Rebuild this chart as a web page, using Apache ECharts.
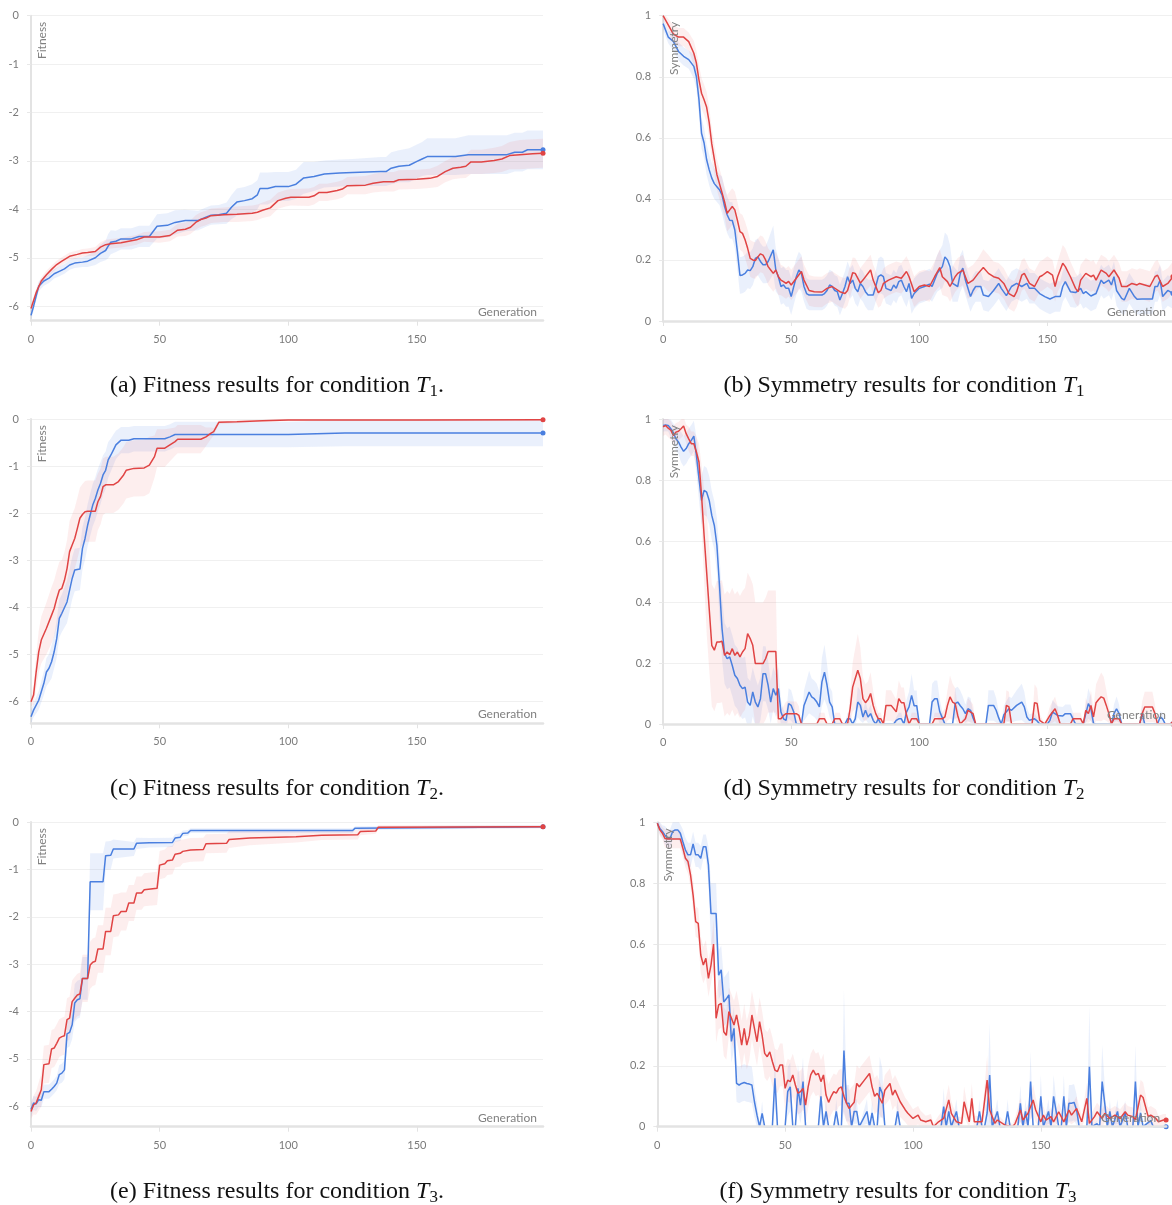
<!DOCTYPE html>
<html>
<head>
<meta charset="utf-8">
<script src="https://cdn.jsdelivr.net/npm/echarts@6/dist/echarts.min.js"></script>
<style>
  html, body { margin: 0; padding: 0; background: #ffffff; }
  #chart { width: 1172px; height: 1205px; }
</style>
</head>
<body>
<div id="chart"></div>
<script>
// Each point: [generation, mean, half-width of the shaded band]

// ---- Fitness, condition T1 ----
const fitT1Blue = [
  [0,-6.19,0.1],[1,-6.0,0.1],[2,-5.79,0.1],[3,-5.59,0.1],[5,-5.48,0.1],[7,-5.42,0.1],[9,-5.33,0.1],[11,-5.28,0.1],
  [13,-5.23,0.1],[15,-5.15,0.1],[17,-5.11,0.1],[20,-5.09,0.1],[22,-5.07,0.12],[25,-5.0,0.15],[27,-4.91,0.18],
  [29,-4.85,0.2],[30,-4.76,0.25],[31,-4.68,0.25],[33,-4.66,0.22],[35,-4.61,0.22],[39,-4.61,0.22],[42,-4.56,0.22],
  [46,-4.56,0.22],[49,-4.35,0.25],[53,-4.33,0.25],[56,-4.27,0.25],[60,-4.23,0.22],[65,-4.23,0.2],[68,-4.16,0.2],
  [70,-4.12,0.2],[73,-4.11,0.2],[76,-4.08,0.22],[78,-3.95,0.25],[80,-3.85,0.28],[83,-3.82,0.28],[86,-3.78,0.3],
  [88,-3.70,0.3],[89,-3.57,0.33],[92,-3.57,0.33],[95,-3.53,0.3],[100,-3.53,0.3],[103,-3.48,0.3],[106,-3.35,0.33],
  [110,-3.32,0.3],[114,-3.27,0.28],[120,-3.25,0.28],[125,-3.24,0.28],[136,-3.22,0.3],[138,-3.22,0.3],[140,-3.15,0.33],
  [143,-3.11,0.33],[147,-3.09,0.35],[150,-3.01,0.35],[152,-2.96,0.35],[154,-2.91,0.38],[165,-2.91,0.38],[170,-2.87,0.4],
  [185,-2.87,0.4],[188,-2.82,0.4],[191,-2.82,0.4],[193,-2.77,0.4],[199,-2.77,0.4]
];
const fitT1Red = [
  [0,-6.05,0.08],[2,-5.72,0.08],[4,-5.48,0.08],[6,-5.35,0.08],[8,-5.24,0.08],[10,-5.14,0.08],[12,-5.07,0.08],
  [15,-4.97,0.08],[18,-4.93,0.08],[20,-4.9,0.08],[22,-4.89,0.08],[25,-4.87,0.09],[27,-4.78,0.1],[29,-4.73,0.1],
  [31,-4.71,0.1],[35,-4.69,0.1],[38,-4.66,0.1],[41,-4.63,0.1],[44,-4.57,0.1],[50,-4.57,0.12],[54,-4.54,0.12],
  [57,-4.43,0.13],[60,-4.41,0.14],[62,-4.37,0.14],[64,-4.27,0.15],[66,-4.21,0.15],[68,-4.18,0.15],[70,-4.13,0.15],
  [75,-4.11,0.15],[80,-4.10,0.16],[86,-4.08,0.16],[88,-4.06,0.16],[90,-4.02,0.16],[93,-3.97,0.17],[96,-3.82,0.17],
  [99,-3.77,0.17],[101,-3.75,0.17],[108,-3.75,0.18],[110,-3.72,0.18],[112,-3.65,0.18],[115,-3.65,0.18],[119,-3.61,0.18],
  [121,-3.58,0.18],[123,-3.51,0.18],[130,-3.50,0.19],[133,-3.46,0.19],[137,-3.43,0.2],[141,-3.43,0.2],[143,-3.39,0.2],
  [150,-3.38,0.2],[155,-3.36,0.2],[158,-3.32,0.22],[161,-3.22,0.22],[164,-3.15,0.23],[167,-3.13,0.23],[169,-3.11,0.24],
  [171,-3.02,0.25],[175,-3.02,0.25],[180,-2.99,0.26],[183,-2.96,0.27],[186,-2.89,0.28],[190,-2.87,0.3],[195,-2.85,0.3],
  [199,-2.84,0.3]
];

// ---- Symmetry, condition T1 ----
const symT1Blue = [
  [0,0.974,0.02],[2,0.93,0.02],[4,0.916,0.03],[6,0.883,0.03],[8,0.867,0.03],[10,0.856,0.03],[12,0.834,0.04],[13,0.80,0.04],
  [14,0.725,0.05],[15,0.615,0.05],[16,0.583,0.05],[17,0.528,0.05],[18,0.495,0.05],[19,0.468,0.05],[20,0.45,0.05],
  [21,0.44,0.05],[22,0.43,0.05],[23,0.413,0.06],[24,0.375,0.06],[25,0.348,0.06],[26,0.33,0.06],[27,0.329,0.06],
  [28,0.298,0.06],[29,0.227,0.06],[30,0.149,0.06],[31,0.151,0.06],[32,0.156,0.06],[33,0.167,0.06],[34,0.165,0.06],
  [35,0.178,0.06],[36,0.205,0.06],[37,0.21,0.06],[38,0.195,0.06],[39,0.184,0.06],[40,0.184,0.06],[41,0.195,0.07],
  [43,0.233,0.08],[44,0.167,0.07],[45,0.145,0.06],[46,0.113,0.06],[47,0.118,0.06],[48,0.107,0.06],[49,0.107,0.06],
  [50,0.08,0.06],[51,0.113,0.06],[52,0.145,0.06],[53,0.167,0.06],[54,0.156,0.06],[55,0.113,0.05],[56,0.09,0.05],
  [57,0.085,0.05],[62,0.085,0.05],[63,0.09,0.05],[64,0.10,0.05],[65,0.118,0.05],[66,0.113,0.05],[67,0.10,0.05],
  [68,0.096,0.05],[69,0.069,0.05],[70,0.09,0.05],[71,0.113,0.05],[72,0.145,0.05],[73,0.123,0.05],[74,0.134,0.05],
  [75,0.107,0.05],[76,0.096,0.05],[77,0.123,0.05],[78,0.113,0.05],[79,0.096,0.05],[80,0.085,0.05],[82,0.085,0.05],
  [83,0.113,0.05],[84,0.145,0.06],[85,0.151,0.06],[86,0.145,0.06],[87,0.107,0.05],[89,0.10,0.05],[90,0.118,0.05],
  [91,0.107,0.05],[92,0.129,0.05],[93,0.134,0.05],[94,0.113,0.05],[95,0.096,0.05],[96,0.123,0.05],[97,0.074,0.05],
  [98,0.09,0.05],[100,0.107,0.05],[102,0.113,0.05],[104,0.121,0.05],[105,0.113,0.05],[107,0.156,0.06],[109,0.178,0.07],
  [110,0.21,0.08],[111,0.20,0.08],[112,0.178,0.07],[113,0.123,0.06],[115,0.113,0.05],[116,0.156,0.06],[117,0.173,0.06],
  [118,0.134,0.05],[120,0.08,0.05],[121,0.10,0.05],[122,0.113,0.05],[124,0.113,0.05],[125,0.085,0.05],[127,0.08,0.05],
  [129,0.10,0.05],[131,0.123,0.05],[132,0.107,0.05],[134,0.083,0.05],[136,0.113,0.05],[138,0.123,0.05],[140,0.113,0.05],
  [142,0.123,0.05],[143,0.107,0.05],[145,0.107,0.05],[147,0.09,0.05],[149,0.08,0.05],[151,0.072,0.05],[153,0.08,0.05],
  [155,0.08,0.05],[156,0.113,0.05],[157,0.129,0.05],[159,0.096,0.05],[161,0.093,0.05],[163,0.107,0.05],[164,0.09,0.05],
  [165,0.096,0.05],[167,0.082,0.05],[169,0.09,0.05],[171,0.134,0.05],[172,0.123,0.05],[174,0.134,0.05],[175,0.118,0.05],
  [176,0.145,0.05],[177,0.10,0.05],[179,0.074,0.05],[180,0.069,0.05],[182,0.107,0.05],[184,0.08,0.05],[185,0.071,0.05],
  [187,0.072,0.05],[191,0.072,0.05],[192,0.113,0.05],[193,0.113,0.05],[194,0.134,0.05],[195,0.08,0.05],[197,0.10,0.05],
  [199,0.09,0.05]
];
const symT1Red = [
  [0,1.0,0.01],[2,0.97,0.02],[4,0.94,0.03],[6,0.93,0.03],[8,0.93,0.03],[10,0.915,0.03],[12,0.877,0.04],[13,0.845,0.04],
  [14,0.79,0.05],[15,0.746,0.05],[16,0.725,0.05],[17,0.70,0.05],[18,0.65,0.05],[19,0.58,0.05],[20,0.53,0.05],
  [21,0.48,0.05],[22,0.45,0.05],[23,0.42,0.05],[24,0.39,0.05],[25,0.353,0.06],[26,0.364,0.06],[27,0.375,0.06],
  [28,0.364,0.06],[29,0.33,0.06],[30,0.293,0.06],[31,0.287,0.06],[32,0.266,0.06],[33,0.238,0.06],[34,0.205,0.06],
  [35,0.2,0.06],[36,0.198,0.06],[37,0.21,0.06],[38,0.22,0.06],[39,0.216,0.06],[40,0.2,0.06],[41,0.178,0.06],
  [42,0.167,0.06],[43,0.156,0.06],[44,0.167,0.06],[45,0.145,0.06],[46,0.134,0.05],[47,0.129,0.05],[48,0.123,0.05],
  [49,0.13,0.05],[50,0.118,0.05],[52,0.14,0.05],[54,0.162,0.05],[55,0.134,0.05],[57,0.10,0.05],[59,0.096,0.05],
  [62,0.095,0.05],[64,0.107,0.05],[66,0.113,0.05],[69,0.096,0.05],[71,0.09,0.05],[72,0.10,0.05],[74,0.158,0.05],
  [75,0.156,0.05],[77,0.124,0.05],[78,0.134,0.05],[81,0.167,0.05],[82,0.134,0.05],[84,0.093,0.05],[85,0.10,0.05],
  [86,0.123,0.05],[88,0.134,0.05],[91,0.145,0.05],[93,0.14,0.05],[95,0.162,0.05],[96,0.145,0.05],[98,0.096,0.05],
  [100,0.113,0.05],[102,0.118,0.05],[104,0.113,0.05],[106,0.145,0.05],[108,0.175,0.06],[109,0.145,0.06],[111,0.129,0.05],
  [112,0.113,0.05],[114,0.145,0.05],[115,0.156,0.05],[117,0.167,0.05],[119,0.123,0.05],[121,0.134,0.05],[123,0.156,0.05],
  [125,0.175,0.06],[127,0.156,0.06],[129,0.145,0.05],[131,0.14,0.05],[133,0.123,0.05],[135,0.09,0.05],[137,0.08,0.05],
  [138,0.096,0.05],[140,0.15,0.05],[141,0.156,0.05],[143,0.123,0.05],[145,0.113,0.05],[147,0.145,0.05],[148,0.149,0.05],
  [150,0.162,0.05],[152,0.15,0.05],[153,0.113,0.05],[154,0.145,0.05],[156,0.189,0.06],[157,0.178,0.06],[159,0.145,0.05],
  [161,0.107,0.05],[162,0.096,0.05],[163,0.134,0.05],[165,0.156,0.05],[167,0.145,0.05],[168,0.15,0.05],[169,0.134,0.05],
  [171,0.167,0.05],[173,0.156,0.05],[174,0.145,0.05],[176,0.167,0.05],[178,0.14,0.05],[179,0.113,0.05],[181,0.113,0.05],
  [183,0.123,0.05],[185,0.118,0.05],[186,0.123,0.05],[188,0.118,0.05],[190,0.113,0.05],[192,0.145,0.05],[193,0.15,0.05],
  [195,0.113,0.05],[197,0.123,0.05],[199,0.145,0.05]
];

// ---- Fitness, condition T2 ----
const fitT2Blue = [
  [0,-6.33,0.15],[1,-6.19,0.15],[3,-5.98,0.2],[5,-5.62,0.25],[6,-5.38,0.3],[7,-5.3,0.3],[8,-5.16,0.35],[9,-4.95,0.35],
  [10,-4.67,0.4],[11,-4.24,0.4],[12,-4.13,0.4],[14,-3.89,0.45],[15,-3.64,0.45],[16,-3.39,0.45],[17,-3.21,0.45],
  [19,-3.19,0.45],[20,-2.75,0.45],[21,-2.54,0.45],[22,-2.26,0.45],[23,-2.04,0.45],[24,-1.83,0.45],[25,-1.69,0.45],
  [26,-1.51,0.45],[27,-1.37,0.45],[28,-1.19,0.42],[29,-1.09,0.4],[30,-0.87,0.38],[31,-0.77,0.35],[32,-0.66,0.33],
  [33,-0.55,0.3],[35,-0.45,0.28],[38,-0.45,0.28],[40,-0.42,0.27],[52,-0.42,0.27],[54,-0.38,0.27],[56,-0.33,0.27],
  [70,-0.33,0.27],[100,-0.33,0.27],[122,-0.3,0.28],[199,-0.3,0.28]
];
const fitT2Red = [
  [0,-6.01,0.1],[1,-5.87,0.2],[2,-5.38,0.35],[3,-4.95,0.45],[4,-4.7,0.5],[6,-4.45,0.55],[8,-4.17,0.6],[9,-4.03,0.6],
  [10,-3.82,0.6],[11,-3.64,0.6],[12,-3.6,0.6],[13,-3.43,0.6],[14,-3.18,0.6],[15,-2.82,0.65],[16,-2.68,0.65],
  [17,-2.54,0.65],[18,-2.33,0.65],[19,-2.11,0.65],[20,-2.03,0.65],[21,-1.97,0.65],[22,-1.96,0.65],[25,-1.96,0.65],
  [26,-1.76,0.6],[27,-1.65,0.6],[28,-1.44,0.6],[29,-1.4,0.6],[32,-1.4,0.6],[34,-1.33,0.6],[36,-1.19,0.6],
  [37,-1.09,0.6],[40,-1.05,0.6],[44,-1.04,0.6],[46,-0.98,0.6],[48,-0.8,0.45],[49,-0.62,0.4],[52,-0.62,0.4],
  [54,-0.55,0.35],[56,-0.48,0.3],[57,-0.43,0.3],[60,-0.43,0.3],[66,-0.43,0.3],[68,-0.38,0.2],[70,-0.3,0.12],
  [71,-0.27,0.08],[73,-0.07,0.04],[80,-0.06,0.03],[90,-0.035,0.02],[100,-0.02,0.02],[150,-0.02,0.02],[199,-0.015,0.02]
];

// ---- Symmetry, condition T2 ----
const symT2Blue = [
  [0,0.979,0.02],[1,0.98,0.02],[2,0.979,0.02],[3,0.968,0.03],[4,0.955,0.03],[5,0.935,0.04],[6,0.925,0.04],[7,0.908,0.05],
  [8,0.894,0.05],[9,0.903,0.05],[10,0.919,0.05],[11,0.93,0.05],[12,0.944,0.05],[13,0.881,0.06],[14,0.804,0.07],
  [15,0.733,0.08],[16,0.766,0.08],[17,0.76,0.08],[18,0.733,0.08],[19,0.684,0.08],[20,0.651,0.08],[21,0.586,0.09],
  [22,0.455,0.1],[23,0.313,0.1],[24,0.231,0.1],[25,0.214,0.1],[26,0.22,0.1],[27,0.192,0.1],[28,0.16,0.1],
  [29,0.149,0.1],[30,0.127,0.1],[31,0.116,0.1],[32,0.121,0.1],[33,0.072,0.08],[34,0.061,0.08],[35,0.105,0.08],
  [36,0.072,0.08],[37,0.056,0.07],[38,0.083,0.07],[39,0.165,0.09],[40,0.165,0.09],[41,0.127,0.08],[42,0.072,0.07],
  [43,0.116,0.07],[44,0.094,0.07],[45,0.116,0.07],[46,0.039,0.04],[47,0.017,0.03],[48,0.012,0.02],[49,0.067,0.05],
  [50,0.061,0.05],[51,0.039,0.04],[52,0,0],[54,0,0],[55,0.061,0.05],[56,0.083,0.06],[57,0.105,0.07],[58,0.089,0.06],
  [59,0.083,0.06],[60,0.072,0.06],[61,0.056,0.05],[62,0.138,0.08],[63,0.17,0.09],[64,0.127,0.07],[65,0.072,0.05],
  [66,0.056,0.05],[67,0,0],[71,0,0],[72,0.017,0.02],[73,0.017,0.02],[74,0,0],[75,0.017,0.02],[76,0.072,0.05],
  [77,0.061,0.05],[78,0.023,0.02],[79,0.045,0.03],[80,0.023,0.02],[81,0.034,0.03],[82,0.012,0.01],[83,0,0],
  [84,0.017,0.02],[85,0,0],[90,0,0],[91,0.012,0.01],[92,0.017,0.02],[93,0.017,0.02],[94,0,0],[95,0.039,0.04],
  [96,0.056,0.05],[97,0.094,0.07],[98,0.06,0.05],[99,0.06,0.05],[100,0,0],[104,0,0],[105,0.072,0.06],[106,0.083,0.06],
  [107,0.083,0.06],[108,0.04,0.04],[109,0.02,0.02],[110,0,0],[113,0,0],[114,0.067,0.05],[115,0.072,0.05],[116,0.06,0.05],
  [117,0.05,0.04],[118,0.034,0.03],[119,0.05,0.04],[120,0.045,0.04],[121,0.02,0.02],[122,0,0],[126,0,0],[127,0.061,0.05],
  [129,0.061,0.05],[130,0.045,0.04],[131,0.02,0.02],[132,0,0],[133,0.03,0.03],[135,0.05,0.04],[136,0.045,0.04],
  [138,0.061,0.05],[140,0.072,0.06],[141,0.056,0.05],[142,0.023,0.03],[143,0.012,0.02],[145,0.017,0.02],[146,0.01,0.01],
  [147,0,0],[150,0,0],[151,0.012,0.02],[152,0.039,0.04],[154,0.028,0.03],[156,0.026,0.03],[157,0.034,0.03],
  [159,0.034,0.03],[160,0.017,0.02],[161,0,0],[164,0,0],[165,0.034,0.03],[166,0.067,0.05],[167,0.05,0.04],
  [168,0.002,0.01],[169,0,0],[175,0,0],[176,0.034,0.03],[177,0.05,0.04],[178,0.034,0.03],[179,0,0],[186,0,0],
  [187,0.034,0.03],[188,0,0],[193,0,0],[194,0.023,0.02],[195,0.017,0.02],[196,0,0],[199,0,0]
];
const symT2Red = [
  [0,0.974,0.03],[1,0.979,0.03],[2,0.97,0.03],[3,0.963,0.03],[4,0.946,0.03],[5,0.957,0.03],[6,0.96,0.03],[7,0.968,0.03],
  [8,0.977,0.03],[9,0.952,0.03],[10,0.935,0.04],[11,0.919,0.04],[12,0.919,0.04],[13,0.892,0.05],[14,0.859,0.06],
  [15,0.75,0.1],[16,0.619,0.15],[17,0.498,0.2],[18,0.378,0.2],[19,0.258,0.2],[20,0.242,0.2],[21,0.269,0.2],
  [22,0.269,0.2],[23,0.271,0.2],[24,0.225,0.2],[25,0.236,0.2],[26,0.227,0.2],[27,0.247,0.2],[28,0.225,0.2],
  [29,0.236,0.2],[30,0.22,0.2],[31,0.236,0.2],[32,0.247,0.2],[33,0.296,0.2],[34,0.28,0.2],[35,0.258,0.2],
  [36,0.198,0.2],[39,0.198,0.2],[40,0.214,0.2],[41,0.238,0.2],[44,0.238,0.2],[45,0.017,0.03],[46,0.017,0.03],
  [47,0.028,0.03],[48,0.034,0.04],[52,0.034,0.04],[53,0.028,0.03],[54,0,0],[60,0,0],[61,0.017,0.02],[63,0.017,0.02],
  [64,0,0],[66,0,0],[67,0.017,0.02],[69,0.017,0.02],[70,0,0],[72,0,0],[73,0.05,0.05],[74,0.121,0.08],[75,0.149,0.1],
  [76,0.176,0.12],[77,0.149,0.1],[78,0.083,0.07],[79,0.07,0.06],[80,0.08,0.06],[81,0.10,0.07],[82,0.061,0.05],
  [83,0.034,0.03],[84,0.017,0.02],[85,0.017,0.02],[86,0,0],[87,0.061,0.05],[89,0.061,0.05],[91,0.04,0.04],
  [92,0.083,0.06],[93,0.07,0.05],[94,0.07,0.05],[95,0.03,0.03],[96,0,0],[97,0.017,0.02],[99,0.017,0.02],[100,0,0],
  [105,0,0],[106,0.017,0.02],[109,0.017,0.02],[110,0.023,0.03],[111,0.061,0.05],[112,0.089,0.07],[113,0.072,0.06],
  [114,0.067,0.05],[115,0.028,0.03],[116,0,0],[118,0.017,0.02],[119,0.045,0.04],[121,0.034,0.03],[122,0,0],[133,0,0],
  [134,0.061,0.05],[135,0.056,0.05],[136,0,0],[144,0,0],[145,0.07,0.06],[146,0.067,0.05],[147,0.012,0.02],[149,0,0],
  [151,0.028,0.03],[153,0.05,0.04],[154,0.028,0.03],[155,0,0],[159,0,0],[160,0.017,0.02],[163,0.017,0.02],[164,0,0],
  [165,0.045,0.04],[166,0.034,0.03],[167,0.061,0.05],[168,0.023,0.03],[169,0.07,0.06],[170,0.08,0.07],[171,0.089,0.08],
  [172,0.085,0.07],[173,0.061,0.05],[174,0.034,0.03],[175,0,0],[176,0.017,0.02],[178,0.017,0.02],[179,0,0],[186,0,0],
  [187,0.034,0.04],[188,0.056,0.05],[191,0.056,0.05],[192,0.034,0.03],[193,0,0],[199,0,0]
];

// ---- Fitness, condition T3 ----
const fitT3Blue = [
  [0,-6.07,0.15],[1,-5.93,0.15],[2,-5.95,0.15],[3,-5.86,0.15],[4,-5.87,0.15],[5,-5.69,0.15],[7,-5.69,0.15],
  [8,-5.64,0.15],[9,-5.58,0.15],[10,-5.51,0.15],[11,-5.33,0.2],[12,-5.3,0.2],[13,-5.23,0.2],[14,-4.47,0.3],
  [15,-4.44,0.3],[16,-4.28,0.3],[17,-3.82,0.4],[18,-3.75,0.4],[19,-3.73,0.4],[20,-3.30,0.45],[22,-3.30,0.45],
  [23,-1.26,0.6],[28,-1.26,0.6],[29,-0.71,0.3],[31,-0.70,0.3],[32,-0.57,0.2],[40,-0.57,0.15],[41,-0.45,0.12],
  [46,-0.44,0.1],[55,-0.43,0.1],[56,-0.34,0.08],[58,-0.32,0.08],[59,-0.24,0.06],[61,-0.23,0.06],[62,-0.18,0.05],
  [125,-0.18,0.05],[126,-0.13,0.04],[199,-0.10,0.03]
];
const fitT3Red = [
  [0,-6.11,0.15],[1,-5.97,0.2],[2,-5.93,0.25],[3,-5.79,0.3],[4,-5.65,0.35],[5,-5.12,0.4],[7,-5.10,0.4],[8,-4.79,0.4],
  [9,-4.77,0.4],[10,-4.67,0.4],[11,-4.56,0.4],[12,-4.53,0.4],[13,-4.51,0.4],[14,-4.17,0.45],[15,-4.14,0.45],
  [16,-3.79,0.45],[17,-3.72,0.45],[18,-3.65,0.45],[19,-3.63,0.45],[20,-3.30,0.5],[22,-3.30,0.5],[23,-3.02,0.5],
  [24,-2.96,0.5],[25,-2.94,0.5],[26,-2.68,0.5],[28,-2.68,0.5],[29,-2.31,0.5],[31,-2.31,0.5],[32,-1.98,0.45],
  [34,-1.96,0.45],[35,-1.89,0.4],[37,-1.89,0.4],[38,-1.71,0.38],[40,-1.71,0.38],[41,-1.50,0.35],[43,-1.50,0.35],
  [44,-1.43,0.35],[49,-1.40,0.35],[50,-0.91,0.3],[52,-0.88,0.3],[53,-0.82,0.3],[55,-0.80,0.3],[56,-0.68,0.28],
  [58,-0.66,0.28],[59,-0.62,0.25],[62,-0.59,0.25],[67,-0.58,0.25],[68,-0.46,0.2],[76,-0.45,0.2],[77,-0.37,0.18],
  [85,-0.34,0.15],[103,-0.31,0.12],[113,-0.28,0.1],[127,-0.27,0.1],[128,-0.20,0.08],[134,-0.19,0.06],[135,-0.11,0.04],
  [199,-0.10,0.03]
];

// ---- Symmetry, condition T3 ----
const symT3Blue = [
  [0,0.997,0.01],[1,0.98,0.02],[2,0.97,0.02],[3,0.958,0.03],[4,0.947,0.03],[5,0.947,0.03],[6,0.97,0.03],[7,0.975,0.03],
  [8,0.975,0.03],[9,0.964,0.03],[10,0.936,0.04],[11,0.909,0.04],[12,0.893,0.04],[13,0.893,0.04],[14,0.929,0.04],
  [15,0.893,0.04],[16,0.893,0.04],[17,0.882,0.04],[18,0.92,0.04],[19,0.92,0.04],[20,0.86,0.06],[21,0.70,0.1],
  [22,0.70,0.1],[23,0.70,0.1],[24,0.498,0.08],[25,0.515,0.08],[26,0.41,0.08],[27,0.42,0.08],[28,0.433,0.08],
  [29,0.28,0.07],[30,0.323,0.07],[31,0.142,0.06],[32,0.137,0.06],[33,0.142,0.06],[34,0.145,0.06],[35,0.142,0.06],
  [36,0.14,0.06],[37,0.137,0.06],[38,0.082,0.05],[39,0.038,0.04],[40,0,0.01],[41,0.044,0.04],[42,0,0],[45,0,0],
  [46,0.159,0.1],[47,0,0],[50,0,0],[51,0.115,0.08],[52,0.131,0.08],[53,0,0],[54,0,0],[55,0.126,0.08],[56,0.071,0.06],
  [57,0.148,0.08],[58,0,0],[63,0,0],[64,0.10,0.07],[65,0,0],[66,0.05,0.04],[67,0,0],[69,0,0],[70,0.05,0.04],[71,0,0],
  [72,0,0],[73,0.25,0.2],[74,0.077,0.06],[75,0.077,0.06],[76,0,0],[77,0.05,0.04],[78,0.05,0.04],[79,0,0],[82,0.05,0.04],
  [83,0,0],[84,0.045,0.04],[85,0,0],[86,0,0],[87,0.13,0.1],[88,0.11,0.08],[89,0,0],[93,0,0],[94,0.05,0.04],[95,0,0],
  [111,0,0],[112,0.066,0.06],[113,0,0],[114,0.05,0.04],[115,0,0],[117,0.05,0.04],[118,0,0],[125,0,0],[126,0.05,0.04],
  [127,0,0],[128,0,0],[129,0.045,0.04],[130,0.17,0.17],[131,0,0],[133,0.05,0.04],[134,0,0],[136,0,0],[137,0.05,0.04],
  [138,0,0],[141,0,0],[142,0.077,0.06],[143,0,0],[144,0.05,0.04],[145,0,0],[146,0.148,0.1],[147,0,0],[149,0,0],
  [150,0.10,0.07],[151,0,0],[153,0.05,0.04],[154,0,0],[155,0.10,0.07],[156,0.05,0.04],[157,0,0],[158,0,0],
  [159,0.10,0.07],[160,0,0],[161,0.077,0.06],[162,0.077,0.06],[163,0.08,0.06],[164,0.055,0.05],[165,0,0],[168,0,0],
  [169,0.197,0.2],[170,0,0],[172,0.01,0.01],[173,0,0],[174,0.148,0.12],[175,0.077,0.06],[176,0,0],[177,0.05,0.04],
  [178,0,0],[180,0.05,0.04],[181,0,0],[183,0.045,0.04],[184,0,0],[186,0,0],[187,0.148,0.12],[188,0,0],
  [189,0.045,0.04],[190,0,0],[193,0.02,0.02],[194,0,0],[199,0,0]
];
const symT3Red = [
  [0,0.997,0.01],[1,0.975,0.02],[2,0.964,0.02],[3,0.947,0.03],[4,0.945,0.03],[9,0.945,0.03],[10,0.915,0.03],
  [11,0.882,0.03],[12,0.871,0.04],[13,0.827,0.04],[14,0.761,0.05],[15,0.674,0.05],[16,0.668,0.05],[17,0.564,0.06],
  [18,0.531,0.06],[19,0.553,0.06],[20,0.487,0.06],[21,0.531,0.06],[22,0.60,0.08],[23,0.356,0.08],[24,0.40,0.08],
  [25,0.405,0.08],[26,0.312,0.08],[27,0.30,0.08],[28,0.378,0.08],[29,0.356,0.08],[30,0.334,0.08],[31,0.367,0.08],
  [32,0.323,0.08],[33,0.268,0.08],[34,0.323,0.08],[35,0.268,0.08],[36,0.30,0.08],[37,0.367,0.08],[38,0.323,0.08],
  [39,0.279,0.08],[40,0.345,0.08],[41,0.30,0.08],[42,0.241,0.08],[43,0.23,0.08],[44,0.246,0.08],[45,0.214,0.08],
  [46,0.186,0.07],[47,0.181,0.07],[48,0.203,0.07],[49,0.203,0.07],[50,0.126,0.07],[51,0.153,0.07],[52,0.148,0.07],
  [53,0.17,0.07],[54,0.137,0.07],[55,0.11,0.07],[56,0.115,0.07],[57,0.126,0.07],[58,0.071,0.06],[59,0.131,0.07],
  [60,0.17,0.07],[61,0.186,0.07],[62,0.17,0.07],[63,0.175,0.07],[64,0.148,0.07],[65,0.17,0.07],[66,0.104,0.06],
  [67,0.08,0.06],[68,0.1,0.06],[69,0.115,0.06],[70,0.11,0.06],[71,0.126,0.06],[72,0.131,0.06],[73,0.10,0.06],
  [74,0.077,0.06],[75,0.06,0.06],[77,0.08,0.06],[78,0.142,0.06],[79,0.131,0.06],[81,0.153,0.06],[83,0.175,0.06],
  [84,0.131,0.06],[85,0.10,0.06],[86,0.11,0.06],[88,0.077,0.05],[89,0.12,0.05],[91,0.142,0.05],[92,0.104,0.05],
  [93,0.12,0.05],[95,0.082,0.05],[97,0.055,0.04],[98,0.044,0.04],[100,0.027,0.03],[102,0.038,0.03],[103,0.022,0.03],
  [105,0.016,0.02],[107,0.022,0.02],[108,0.0,0.01],[110,0.016,0.02],[112,0.027,0.03],[114,0.088,0.05],[115,0.044,0.04],
  [117,0.016,0.02],[119,0.011,0.02],[120,0.082,0.05],[122,0.016,0.02],[123,0.093,0.05],[124,0.016,0.02],[127,0.016,0.02],
  [129,0.153,0.08],[130,0.055,0.04],[132,0.011,0.02],[133,0.022,0.02],[136,0.005,0.01],[139,0.0,0.01],[140,0.011,0.02],
  [142,0.055,0.04],[143,0.022,0.02],[145,0.044,0.03],[147,0.088,0.05],[148,0.055,0.04],[150,0.016,0.02],[151,0.038,0.03],
  [152,0.022,0.02],[154,0.033,0.03],[155,0.016,0.02],[157,0.049,0.03],[159,0.016,0.02],[161,0.055,0.04],[162,0.038,0.03],
  [164,0.06,0.04],[166,0.016,0.02],[168,0.093,0.05],[169,0.011,0.02],[171,0.033,0.03],[172,0.049,0.03],[174,0.027,0.03],
  [175,0.044,0.03],[177,0.027,0.03],[179,0.038,0.03],[181,0.027,0.03],[183,0.049,0.03],[184,0.038,0.03],[186,0.033,0.03],
  [187,0.022,0.02],[189,0.104,0.05],[190,0.096,0.05],[192,0.033,0.03],[193,0.038,0.03],[195,0.027,0.03],[196,0.016,0.02],
  [198,0.022,0.02],[199,0.022,0.02]
];

// Axis and caption texts
const xTicks = [0, 50, 100, 150];
const lastGeneration = 199;
const captions = [
  ['(a) Fitness results for condition ', '1', '.'],
  ['(b) Symmetry results for condition ', '1', ''],
  ['(c) Fitness results for condition ', '2', '.'],
  ['(d) Symmetry results for condition ', '2', ''],
  ['(e) Fitness results for condition ', '3', '.'],
  ['(f) Symmetry results for condition ', '3', '']
];

// ---- Layout of the six panels ----
const BLUE = '#4a7fdf';
const RED = '#e04444';
const BLUE_BAND = 'rgba(90,140,235,0.13)';
const RED_BAND = 'rgba(235,100,100,0.11)';
const UI_FONT = 'Lato';
const CAP_MAIN = '24px "Liberation Serif"';
const CAP_ITALIC = 'italic 24px "Liberation Serif"';
const CAP_SUB = '17px "Liberation Serif"';

const panels = [
  { left: 31,    top: 15.7,  width: 512,   height: 305,   yMin: -6.3,  yMax: 0, yName: 'Fitness',  blue: fitT1Blue, red: fitT1Red, capX: 277, capY: 386 },
  { left: 663.1, top: 15.7,  width: 509.8, height: 305.3, yMin: 0,     yMax: 1, yName: 'Symmetry', blue: symT1Blue, red: symT1Red, capX: 904, capY: 386 },
  { left: 31,    top: 419,   width: 512,   height: 304.3, yMin: -6.47, yMax: 0, yName: 'Fitness',  blue: fitT2Blue, red: fitT2Red, capX: 277, capY: 789 },
  { left: 663.1, top: 419,   width: 509.8, height: 305,   yMin: 0,     yMax: 1, yName: 'Symmetry', blue: symT2Blue, red: symT2Red, capX: 904, capY: 789 },
  { left: 31,    top: 822,   width: 512,   height: 304.7, yMin: -6.43, yMax: 0, yName: 'Fitness',  blue: fitT3Blue, red: fitT3Red, capX: 277, capY: 1192 },
  { left: 657.3, top: 822.3, width: 508.8, height: 304.4, yMin: 0,     yMax: 1, yName: 'Symmetry', blue: symT3Blue, red: symT3Red, capX: 898, capY: 1192 }
];

const measureCtx = document.createElement('canvas').getContext('2d');
function textWidth(font, s) {
  measureCtx.font = font;
  return measureCtx.measureText(s).width;
}

const grid = [], xAxis = [], yAxis = [], series = [], graphic = [];

function bandSeries(idx, pts, color) {
  return {
    type: 'custom',
    xAxisIndex: idx, yAxisIndex: idx,
    silent: true, z: 1,
    data: pts.map(p => [p[0], p[1] - p[2], p[1] + p[2]]),
    encode: { x: 0, y: [1, 2] },
    renderItem: function (params, api) {
      if (params.dataIndex !== 0) return null;
      const up = pts.map(p => api.coord([p[0], p[1] + p[2]]));
      const lo = pts.map(p => api.coord([p[0], p[1] - p[2]])).reverse();
      const cs = params.coordSys;
      return {
        type: 'polygon',
        shape: { points: up.concat(lo) },
        style: { fill: color },
        clipPath: { type: 'rect', shape: { x: cs.x, y: cs.y, width: cs.width, height: cs.height } }
      };
    }
  };
}

function meanSeries(idx, pts, color) {
  const last = pts.length - 1;
  return {
    type: 'line',
    xAxisIndex: idx, yAxisIndex: idx,
    z: 3,
    data: pts.map(p => [p[0], p[1]]),
    showSymbol: true,
    symbol: function (v, params) { return params.dataIndex === last ? 'circle' : 'none'; },
    symbolSize: 5,
    lineStyle: { color: color, width: 1.5 },
    itemStyle: { color: color },
    emphasis: { disabled: true },
    silent: true
  };
}

// caption: upright text, italic T, lowered digit, optional full stop
function captionElements(c, cx, cy) {
  const w1 = textWidth(CAP_MAIN, c[0]);
  const w2 = textWidth(CAP_ITALIC, 'T');
  const w3 = textWidth(CAP_SUB, c[1]);
  const w4 = textWidth(CAP_MAIN, c[2]);
  let x = cx - (w1 + w2 + w3 + w4) / 2;
  const parts = [
    { t: c[0], f: CAP_MAIN, dy: 0, w: w1 },
    { t: 'T', f: CAP_ITALIC, dy: 0, w: w2 },
    { t: c[1], f: CAP_SUB, dy: 6, w: w3 },
    { t: c[2], f: CAP_MAIN, dy: 0, w: w4 }
  ];
  const out = [];
  parts.forEach(p => {
    if (p.t) {
      out.push({
        type: 'text', x: x, y: cy + p.dy, silent: true,
        style: { text: p.t, font: p.f, fill: '#111111', align: 'left', verticalAlign: 'middle' }
      });
    }
    x += p.w;
  });
  return out;
}

panels.forEach((p, i) => {
  grid.push({ left: p.left, top: p.top, width: p.width, height: p.height, containLabel: false, outerBoundsMode: 'none' });
  xAxis.push({
    gridIndex: i, type: 'value', min: 0, max: lastGeneration, interval: 50, z: 10,
    axisLine: { show: true, onZero: false, lineStyle: { color: '#e3e3e3', width: 2.5 } },
    axisTick: { show: true, length: 5, lineStyle: { color: '#e3e3e3', width: 1 } },
    axisLabel: {
      color: '#7a7a7a', fontSize: 11, fontFamily: UI_FONT, margin: 13, showMaxLabel: false,
      formatter: v => (xTicks.indexOf(v) >= 0 ? String(v) : '')
    },
    splitLine: { show: false }
  });
  yAxis.push({
    gridIndex: i, type: 'value', min: p.yMin, max: p.yMax, splitNumber: 5,
    axisLine: { show: true, lineStyle: { color: '#e3e3e3', width: 2 } },
    axisTick: { show: true, length: 4, lineStyle: { color: '#e8e8e8' } },
    axisLabel: { color: '#7a7a7a', fontSize: 11, fontFamily: UI_FONT, margin: 12, showMinLabel: p.yMin === 0 },
    splitLine: { show: true, lineStyle: { color: '#f0f0f0', width: 1 } }
  });

  series.push(bandSeries(i, p.blue, BLUE_BAND));
  series.push(bandSeries(i, p.red, RED_BAND));
  series.push(meanSeries(i, p.blue, BLUE));
  series.push(meanSeries(i, p.red, RED));

  // axis names drawn inside the plot area
  graphic.push({
    type: 'text', x: p.left + 11, y: p.top + 6, rotation: Math.PI / 2, z: 20, silent: true,
    style: { text: p.yName, fill: '#808080', font: '12px ' + UI_FONT, align: 'right', verticalAlign: 'middle' }
  });
  graphic.push({
    type: 'text', x: Math.min(p.left + p.width, 1172) - 6, y: p.top + p.height - 9, z: 20, silent: true,
    style: { text: 'Generation', fill: '#808080', font: '12px ' + UI_FONT, align: 'right', verticalAlign: 'middle' }
  });

  captionElements(captions[i], p.capX, p.capY).forEach(el => graphic.push(el));
});

const chart = echarts.init(document.getElementById('chart'), null, { renderer: 'canvas' });
chart.setOption({
  animation: false,
  backgroundColor: '#ffffff',
  grid: grid,
  xAxis: xAxis,
  yAxis: yAxis,
  series: series,
  graphic: graphic
});
</script>
</body>
</html>
